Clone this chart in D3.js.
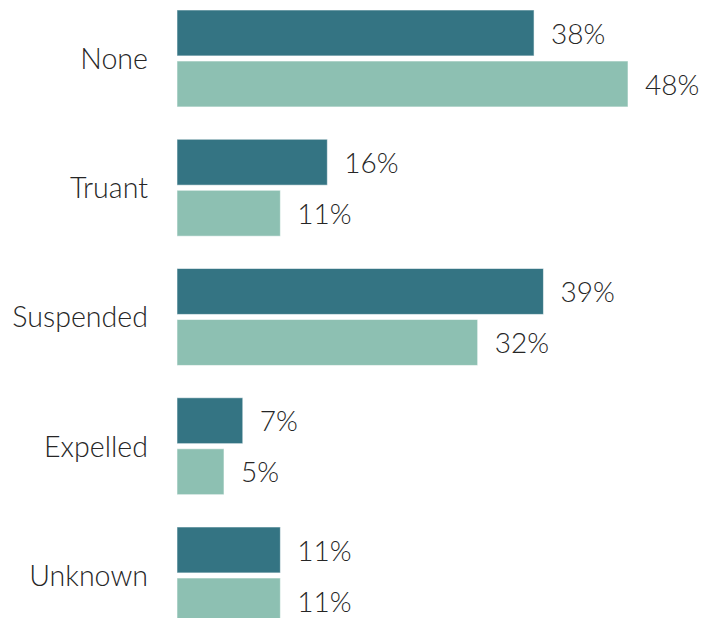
<!DOCTYPE html>
<html>
<head>
<meta charset="utf-8">
<script src="https://cdn.jsdelivr.net/npm/d3@7"></script>
<style>
  html, body { margin: 0; padding: 0; background: #fff; }
  svg { display: block; }
  text { font-family: Lato, "Open Sans", sans-serif; font-weight: 300; fill: #262626; }
</style>
</head>
<body>
<svg id="chart" width="722" height="618"></svg>
<script>
// Discipline outcome categories and two series of shares (percent)
const categories = ["None", "Truant", "Suspended", "Expelled", "Unknown"];
const seriesKeys = ["first", "second"];
const firstValues = [38, 16, 39, 7, 11];
const secondValues = [48, 11, 32, 5, 11];

const rows = categories.map((c, i) => ({
  category: c,
  values: [
    { key: "first", value: firstValues[i] },
    { key: "second", value: secondValues[i] }
  ]
}));

const svg = d3.select("#chart");

const x = d3.scaleLinear().domain([0, 48]).range([177, 628]);

const step = 129.25;
const y0 = d3.scaleBand()
  .domain(categories)
  .range([10 - 0.125 * step, 10 - 0.125 * step + 5 * step])
  .paddingInner(0.25)
  .paddingOuter(0.125);

const y1 = d3.scaleBand()
  .domain(seriesKeys)
  .range([0, y0.bandwidth()])
  .paddingInner(0.1);

const color = d3.scaleOrdinal().domain(seriesKeys).range(["#347483", "#8dc0b2"]);

const groups = svg.selectAll("g.group")
  .data(rows)
  .join("g")
  .attr("class", "group")
  .attr("transform", d => `translate(0,${y0(d.category)})`);

groups.selectAll("rect")
  .data(d => d.values)
  .join("rect")
  .attr("x", x(0))
  .attr("y", d => y1(d.key))
  .attr("width", d => x(d.value) - x(0))
  .attr("height", y1.bandwidth())
  .attr("fill", d => color(d.key))
  .attr("stroke", "rgba(255,255,255,0.55)")
  .attr("stroke-width", 1);

groups.selectAll("text.value")
  .data(d => d.values)
  .join("text")
  .attr("class", "value")
  .attr("x", d => x(d.value) + 17)
  .attr("y", d => y1(d.key) + y1.bandwidth() / 2)
  .attr("dy", "0.38em")
  .attr("font-size", 28)
  .text(d => d.value + "%");

groups.append("text")
  .attr("class", "category")
  .attr("x", 148)
  .attr("y", y0.bandwidth() / 2)
  .attr("dy", "0.36em")
  .attr("text-anchor", "end")
  .attr("font-size", 28.6)
  .text(d => d.category);
</script>
</body>
</html>
